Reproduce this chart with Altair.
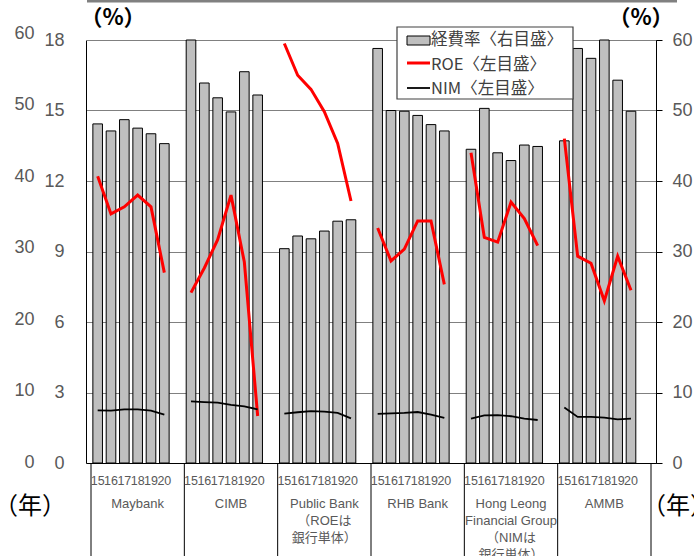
import altair as alt
import pandas as pd

# ---------------- data ----------------
banks = ["Maybank", "CIMB", "Public Bank", "RHB Bank", "Hong Leong Financial Group", "AMMB"]
bank_labels = ["Maybank", "CIMB", "Public Bank\n（ROEは\n銀行単体）", "RHB Bank",
               "Hong Leong\nFinancial Group\n（NIMは\n銀行単体）", "AMMB"]
years = ["15", "16", "17", "18", "19", "20"]

# 経費率 (right axis, %)
expense_ratio = [
    [48.1, 47.1, 48.7, 47.5, 46.7, 45.3],
    [60.0, 53.9, 51.8, 49.8, 55.5, 52.2],
    [30.4, 32.2, 31.8, 32.9, 34.3, 34.5],
    [58.8, 50.0, 49.9, 49.3, 48.0, 47.1],
    [44.5, 50.3, 44.0, 42.9, 45.1, 44.9],
    [45.7, 58.8, 57.4, 60.0, 54.3, 49.9],
]
# ROE (left axis, %)
roe = [
    [12.2, 10.6, 10.9, 11.4, 10.9, 8.1],
    [7.25, 8.3, 9.5, 11.4, 8.55, 2.0],
    [17.85, 16.5, 15.9, 14.95, 13.6, 11.15],
    [10.0, 8.6, 9.1, 10.3, 10.3, 7.6],
    [13.2, 9.6, 9.4, 11.1, 10.4, 9.25],
    [13.8, 8.8, 8.5, 6.9, 8.8, 7.35],
]
# NIM (left axis, %)
nim = [
    [2.24, 2.23, 2.28, 2.28, 2.23, 2.06],
    [2.62, 2.59, 2.57, 2.47, 2.41, 2.28],
    [2.10, 2.16, 2.21, 2.19, 2.13, 1.90],
    [2.09, 2.11, 2.13, 2.17, 2.06, 1.92],
    [1.89, 2.03, 2.04, 1.99, 1.89, 1.83],
    [2.36, 1.96, 1.96, 1.93, 1.86, 1.89],
]

left_ticks = [0, 3, 6, 9, 12, 15, 18]
outer_ticks = [0, 10, 20, 30, 40, 50, 60]
right_ticks = [0, 10, 20, 30, 40, 50, 60]
legend_labels = ["経費率〈右目盛〉", "ROE〈左目盛〉", "NIM〈左目盛〉"]
unit_label = "（%）"
year_label = "（年）"

# ---------------- tables ----------------
SLOTS = len(years) + 1  # one empty category after each bank
rows = []
for bi, b in enumerate(banks):
    for yi, yr in enumerate(years):
        rows.append(dict(bank=b, year=yr, pos=bi * SLOTS + yi + 0.5,
                         expense=expense_ratio[bi][yi], ROE=roe[bi][yi], NIM=nim[bi][yi]))
df = pd.DataFrame(rows)
long = df.melt(id_vars=["bank", "year", "pos"], value_vars=["ROE", "NIM"],
               var_name="series", value_name="value")
names = pd.DataFrame({"bank": banks, "label": bank_labels,
                      "pos": [bi * SLOTS + 3.5 for bi in range(len(banks))]})
seps = pd.DataFrame({"pos": [bi * SLOTS for bi in range(len(banks) + 1)]})
outer = pd.DataFrame({"v": outer_ticks})
one = pd.DataFrame({"a": [0]})

LATIN = "Liberation Sans"
CJK = "Noto Sans CJK JP"
GRAY = "#595959"


def X():
    return alt.X("pos:Q", scale=alt.Scale(domain=[0, SLOTS * len(banks)], nice=False, zero=False),
                 axis=alt.Axis(labels=False, ticks=False, grid=False, domain=True,
                               domainColor="black", domainWidth=1, title=None))


bars = alt.Chart(df).mark_bar(size=9.6, fill="#bfbfbf", stroke="black", strokeWidth=1,
                              orient="vertical").encode(
    x=X(),
    y=alt.Y("expense:Q", scale=alt.Scale(domain=[0, 60], nice=False),
            axis=alt.Axis(orient="right", values=right_ticks, grid=True, gridColor="black",
                          gridDash=[1, 1], gridWidth=1, domain=True, domainColor="black",
                          ticks=True, tickColor="black", tickSize=6, labelPadding=10,
                          labelFontSize=18, labelFont=LATIN, labelColor=GRAY, title=None)),
)

lines = alt.Chart(long).mark_line().encode(
    x=X(),
    y=alt.Y("value:Q", scale=alt.Scale(domain=[0, 18], nice=False),
            axis=alt.Axis(orient="left", values=left_ticks, grid=False, domain=True,
                          domainColor="black", ticks=False, tickSize=0, labelPadding=22,
                          labelFontSize=18, labelFont=LATIN, labelColor=GRAY, title=None)),
    color=alt.Color("series:N", scale=alt.Scale(domain=["NIM", "ROE"], range=["black", "#ff0000"]),
                    legend=None),
    strokeWidth=alt.StrokeWidth("series:N", scale=alt.Scale(domain=["NIM", "ROE"], range=[1.8, 3]),
                                legend=None),
    detail="bank:N",
    order="pos:Q",
)

outer_axis = alt.Chart(outer).mark_point(opacity=0).encode(
    x=alt.value(0),
    y=alt.Y("v:Q", scale=alt.Scale(domain=[0, 60], range=[422, -7], nice=False),
            axis=alt.Axis(orient="left", values=outer_ticks, grid=False, domain=False,
                          ticks=False, tickSize=0, labelPadding=52, labelFontSize=18,
                          labelFont=LATIN, labelColor=GRAY, title=None)),
)

year_text = alt.Chart(df).mark_text(fontSize=12.5, font=LATIN, color=GRAY,
                                    baseline="alphabetic").encode(
    x=X(), y=alt.value(445), text="year:N")

name_text = alt.Chart(names).mark_text(fontSize=13, font=f"{LATIN}, {CJK}", color=GRAY,
                                       baseline="alphabetic", lineBreak="\n",
                                       lineHeight=17).encode(
    x=X(), y=alt.value(468), text="label:N")

sep_rules = alt.Chart(seps).mark_rule(color="black", strokeWidth=1).encode(
    x=X(), y=alt.value(423), y2=alt.value(530))

top_line = alt.Chart(one).mark_rule(color="#808080", strokeWidth=3).encode(
    x=alt.value(1), x2=alt.value(591), y=alt.value(-39))

legend_box = alt.Chart(one).mark_rect(fill="white", stroke="#404040", strokeWidth=1.2).encode(
    x=alt.value(311), x2=alt.value(487), y=alt.value(-13), y2=alt.value(59))
legend_swatch = alt.Chart(one).mark_rect(fill="#bfbfbf", stroke="black", strokeWidth=1).encode(
    x=alt.value(321), x2=alt.value(344), y=alt.value(-4), y2=alt.value(5))
legend_red = alt.Chart(one).mark_rule(color="#ff0000", strokeWidth=3).encode(
    x=alt.value(321), x2=alt.value(344), y=alt.value(23))
legend_black = alt.Chart(one).mark_rule(color="black", strokeWidth=1.8).encode(
    x=alt.value(321), x2=alt.value(344), y=alt.value(48))
legend_texts = [
    alt.Chart(pd.DataFrame({"t": [lab]})).mark_text(
        fontSize=16.5, font=CJK, color="#404040", align="left", baseline="alphabetic").encode(
        x=alt.value(345), y=alt.value(yy), text="t:N")
    for lab, yy in zip(legend_labels, [5, 29.5, 54])
]

unit_left = alt.Chart(pd.DataFrame({"t": [unit_label]})).mark_text(
    fontSize=22, font=CJK, fontWeight="bold", color="black", align="center",
    baseline="middle").encode(x=alt.value(27), y=alt.value(-22), text="t:N")
unit_right = alt.Chart(pd.DataFrame({"t": [unit_label]})).mark_text(
    fontSize=22, font=CJK, fontWeight="bold", color="black", align="center",
    baseline="middle").encode(x=alt.value(555), y=alt.value(-22), text="t:N")

year_left = alt.Chart(pd.DataFrame({"t": [year_label]})).mark_text(
    fontSize=24, font=CJK, color="black", align="center", baseline="alphabetic").encode(
    x=alt.value(-56), y=alt.value(474), text="t:N")
year_right = alt.Chart(pd.DataFrame({"t": [year_label]})).mark_text(
    fontSize=24, font=CJK, color="black", align="left", baseline="alphabetic").encode(
    x=alt.value(556), y=alt.value(474), text="t:N")

chart = alt.layer(
    bars, lines, outer_axis, sep_rules, year_text, name_text, top_line,
    legend_box, legend_swatch, legend_red, legend_black, *legend_texts,
    unit_left, unit_right, year_left, year_right,
).resolve_scale(y="independent").properties(
    width=570, height=423, autosize="none",
    padding={"left": 86, "top": 40, "right": 38, "bottom": 93},
).configure_view(stroke=None)

chart.save("out.html", embed_options={"renderer": "svg", "actions": False})
